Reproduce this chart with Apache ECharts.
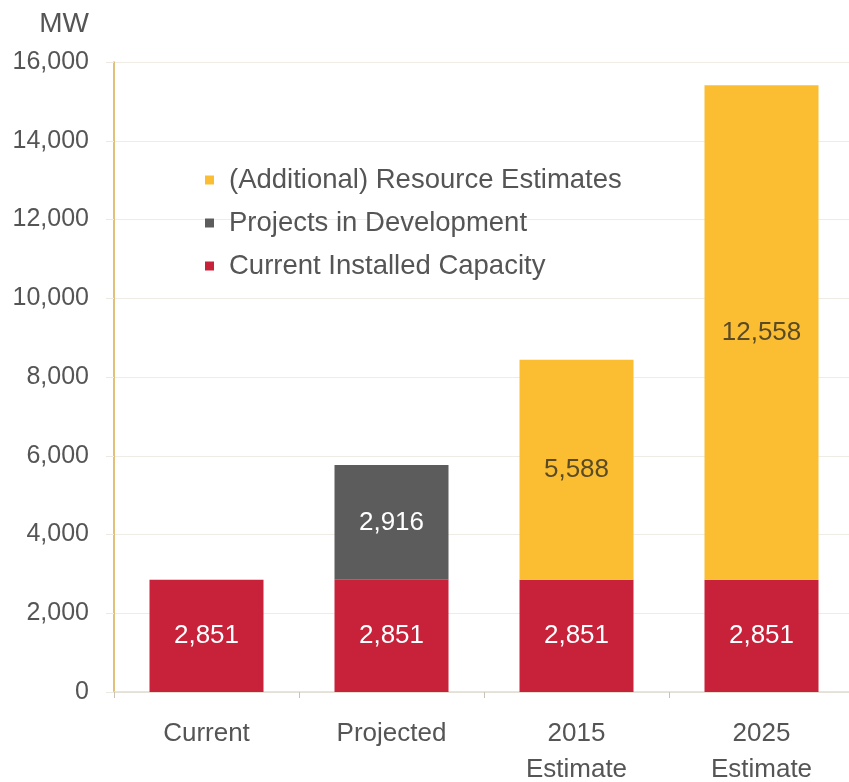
<!DOCTYPE html>
<html>
<head>
<meta charset="utf-8">
<script src="https://cdn.jsdelivr.net/npm/echarts@6/dist/echarts.min.js"></script>
<style>
  html, body { margin: 0; padding: 0; background: #fff; }
  #chart { width: 849px; height: 782px; }
</style>
</head>
<body>
<div id="chart"></div>
<script>
const categories = ['Current', 'Projected', '2015\nEstimate', '2025\nEstimate'];
const currentInstalled = [2851, 2851, 2851, 2851];
const inDevelopment = ['-', 2916, '-', '-'];
const resourceEstimates = ['-', '-', 5588, 12558];
const yTicks = [0, 2000, 4000, 6000, 8000, 10000, 12000, 14000, 16000];

const font = '"Liberation Sans", Arial, Helvetica, sans-serif';
const fmt = v => v.toLocaleString('en-US');

const chart = echarts.init(document.getElementById('chart'));

const barLabel = (color) => ({
  show: true,
  position: 'inside',
  color: color,
  fontSize: 26,
  fontFamily: font,
  formatter: p => fmt(p.value)
});

chart.setOption({
  animation: false,
  textStyle: { fontFamily: font },
  legend: {
    orient: 'vertical',
    left: 205,
    top: 166,
    padding: 0,
    itemWidth: 9,
    itemHeight: 9,
    itemGap: 15,
    icon: 'rect',
    textStyle: { fontSize: 27.5, color: '#555', fontFamily: font, padding: [0, 0, 0, 10] },
    data: ['(Additional) Resource Estimates', 'Projects in Development', 'Current Installed Capacity']
  },
  grid: { left: 114, right: -5, top: 62, bottom: 90, outerBoundsMode: 'none' },
  xAxis: {
    type: 'category',
    data: categories,
    axisLine: { lineStyle: { color: '#e2dccf', width: 1.5 } },
    axisTick: { show: true, length: 6, lineStyle: { color: '#c9c3b5' } },
    axisLabel: { fontSize: 26, color: '#555', margin: 24, lineHeight: 36, fontFamily: font }
  },
  yAxis: {
    type: 'value',
    min: 0,
    max: yTicks[yTicks.length - 1],
    interval: yTicks[1] - yTicks[0],
    name: 'MW',
    nameLocation: 'end',
    nameGap: 24,
    nameTextStyle: { fontSize: 28, color: '#555', align: 'right', padding: [0, 25, 0, 0], fontFamily: font },
    axisLine: { show: true, lineStyle: { color: '#d8ab4c', width: 1.5 } },
    axisTick: { show: true, length: 8, lineStyle: { color: '#ece9e3' } },
    splitLine: { lineStyle: { color: '#efece6' } },
    axisLabel: { fontSize: 25, color: '#555', margin: 25, fontFamily: font, formatter: v => fmt(v) }
  },
  series: [
    {
      name: 'Current Installed Capacity',
      type: 'bar',
      stack: 'mw',
      barWidth: 114,
      itemStyle: { color: '#c8213a' },
      label: barLabel('#ffffff'),
      data: currentInstalled
    },
    {
      name: 'Projects in Development',
      type: 'bar',
      stack: 'mw',
      barWidth: 114,
      itemStyle: { color: '#5c5c5c' },
      label: barLabel('#ffffff'),
      data: inDevelopment
    },
    {
      name: '(Additional) Resource Estimates',
      type: 'bar',
      stack: 'mw',
      barWidth: 114,
      itemStyle: { color: '#fbbe33' },
      label: barLabel('#5a4b25'),
      data: resourceEstimates
    }
  ]
});
</script>
</body>
</html>
